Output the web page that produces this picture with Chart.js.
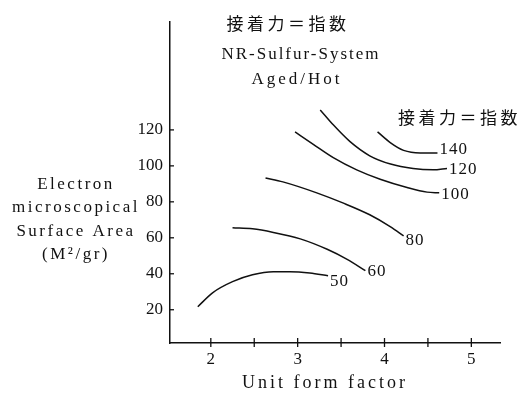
<!DOCTYPE html>
<html>
<head>
<meta charset="utf-8">
<script src="https://cdn.jsdelivr.net/npm/chart.js@4.4.1/dist/chart.umd.min.js"></script>
<style>
  html, body { margin: 0; padding: 0; background: #fff; }
  #wrap { width: 520px; height: 393px; }
</style>
</head>
<body>
<div id="wrap"><canvas id="chart" width="520" height="393"></canvas></div>
<script>
// contour lines (x = unit form factor, y = surface area)
const curveLabels = ['50', '60', '80', '100', '120', '140'];
const xs50 = [1.85, 2.02, 2.25, 2.48, 2.72, 2.91, 3.14, 3.35];
const ys50 = [21.7, 29.4, 35.6, 39.4, 41.1, 41.1, 40.4, 38.9];
const xs60 = [2.25, 2.48, 2.72, 3.03, 3.34, 3.57, 3.78];
const ys60 = [65.6, 65.0, 63.0, 59.4, 53.6, 48.0, 41.7];
const xs80 = [2.63, 2.83, 3.22, 3.52, 3.83, 4.07, 4.22];
const ys80 = [93.3, 91.1, 85.0, 79.4, 72.8, 66.1, 61.1];
const xs100 = [2.97, 3.18, 3.41, 3.68, 3.95, 4.26, 4.49, 4.63];
const ys100 = [118.9, 112.0, 104.6, 97.8, 92.6, 88.0, 85.4, 85.0];
const xs120 = [3.26, 3.41, 3.60, 3.83, 4.07, 4.33, 4.56, 4.72];
const ys120 = [131.1, 122.8, 113.6, 105.6, 101.0, 98.5, 97.8, 98.6];
const xs140 = [3.92, 4.07, 4.22, 4.41, 4.61];
const ys140 = [118.9, 112.8, 108.6, 107.2, 107.2];

const xTicks = [2, 2.5, 3, 3.5, 4, 4.5, 5];
const yTicks = [20, 40, 60, 80, 100, 120];

const titleText = '接着力＝指数';
const systemText = ['NR-Sulfur-System', 'Aged/Hot'];
const yTitle = ['Electron', 'microscopical', 'Surface Area', '(M²/gr)'];
const xTitle = 'Unit form factor';

const serif = '"Liberation Serif", "DejaVu Serif", serif';
const cjk = '"Noto Sans CJK JP", "Noto Sans CJK SC", sans-serif';
const ink = '#111';

const allX = [xs50, xs60, xs80, xs100, xs120, xs140];
const allY = [ys50, ys60, ys80, ys100, ys120, ys140];

const datasets = curveLabels.map((lab, i) => ({
  label: lab,
  data: allX[i].map((x, j) => ({ x, y: allY[i][j] })),
  borderColor: ink,
  borderWidth: 1.5,
  pointRadius: 0,
  cubicInterpolationMode: 'monotone',
  fill: false
}));

// small nudges for where each contour number sits after its line end
const labelDy = [6, 1, 5, 2, 1, -3];

const annotations = {
  id: 'annotations',
  afterDraw(chart) {
    const ctx = chart.ctx;
    const xs = chart.scales.x, ys = chart.scales.y;
    ctx.save();
    ctx.strokeStyle = ink;
    ctx.lineWidth = 1.3;
    xTicks.forEach(v => {
      const px = xs.getPixelForValue(v);
      ctx.beginPath();
      ctx.moveTo(px, ys.bottom - 5);
      ctx.lineTo(px, ys.bottom + 4);
      ctx.stroke();
    });
    yTicks.forEach(v => {
      const py = ys.getPixelForValue(v);
      ctx.beginPath();
      ctx.moveTo(xs.left, py);
      ctx.lineTo(xs.left + 4, py);
      ctx.stroke();
    });

    ctx.fillStyle = ink;
    ctx.textBaseline = 'middle';

    // contour numbers
    ctx.font = '17px ' + serif;
    ctx.textAlign = 'left';
    ctx.letterSpacing = '1px';
    chart.data.datasets.forEach((ds, i) => {
      const pts = chart.getDatasetMeta(i).data;
      const last = pts[pts.length - 1];
      ctx.fillText(ds.label, last.x + 2, last.y + labelDy[i]);
    });

    // headings
    ctx.textAlign = 'center';
    ctx.font = '17px ' + cjk;
    ctx.letterSpacing = '3.5px';
    ctx.fillText(titleText, 288, 24);
    ctx.textAlign = 'left';
    ctx.fillText(titleText, 398, 118);

    ctx.textAlign = 'center';
    ctx.font = '17px ' + serif;
    ctx.letterSpacing = '2px';
    ctx.fillText(systemText[0], 301, 55);
    ctx.letterSpacing = '3px';
    ctx.fillText(systemText[1], 297, 80);

    // axis titles
    ctx.letterSpacing = '2.5px';
    const yLines = [185, 208, 232, 255];
    yTitle.forEach((t, i) => ctx.fillText(t, 76, yLines[i]));
    ctx.font = '18px ' + serif;
    ctx.letterSpacing = '3px';
    ctx.fillText(xTitle, 325, 383);
    ctx.restore();
  }
};

new Chart(document.getElementById('chart'), {
  type: 'line',
  data: { datasets },
  options: {
    responsive: false,
    animation: false,
    layout: { padding: { left: 0, right: 20, top: 22, bottom: 0 } },
    plugins: {
      legend: { display: false },
      tooltip: { enabled: false }
    },
    scales: {
      x: {
        type: 'linear',
        min: 1.53,
        max: 5.33,
        afterBuildTicks: s => { s.ticks = xTicks.map(v => ({ value: v })); },
        afterFit: s => { s.height = 50; },
        grid: { display: false, drawTicks: false },
        border: { display: true, color: ink, width: 1.5 },
        ticks: {
          color: ink,
          padding: 6,
          maxRotation: 0,
          font: { family: serif, size: 17 },
          callback: v => (Number.isInteger(v) ? String(v) : '')
        }
      },
      y: {
        type: 'linear',
        min: 1.5,
        max: 180,
        afterBuildTicks: s => { s.ticks = yTicks.map(v => ({ value: v })); },
        afterFit: s => { s.width = 170; },
        grid: { display: false, drawTicks: false },
        border: { display: true, color: ink, width: 1.5 },
        ticks: {
          color: ink,
          padding: 7,
          font: { family: serif, size: 17 }
        }
      }
    }
  },
  plugins: [annotations]
});
</script>
</body>
</html>
